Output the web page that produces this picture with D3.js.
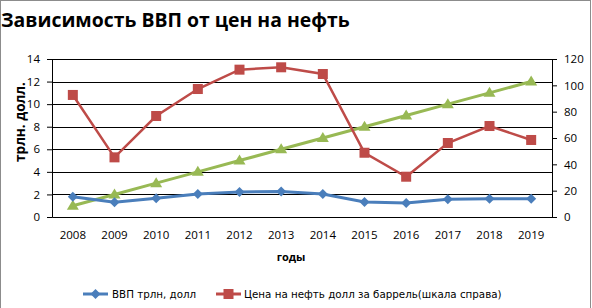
<!DOCTYPE html>
<html>
<head>
<meta charset="utf-8">
<script src="https://cdn.jsdelivr.net/npm/d3@7"></script>
<style>
  body { margin: 0; background: #fff; }
  svg { display: block; font-family: "Open Sans", "DejaVu Sans", sans-serif; }
</style>
</head>
<body>
<div id="chart"></div>
<script>
// data
const years = ["2008", "2009", "2010", "2011", "2012", "2013", "2014", "2015", "2016", "2017", "2018", "2019"];
const gdp = [1.8, 1.3, 1.66, 2.04, 2.21, 2.27, 2.04, 1.33, 1.24, 1.57, 1.62, 1.62];
const oil = [92.7, 45.3, 76.7, 97.2, 111.9, 113.7, 108.6, 48.8, 30.6, 56.2, 69.1, 58.5];
const trend = [1, 2, 3, 4, 5, 6, 7, 8, 9, 10, 11, 12];
const leftTicks = [0, 2, 4, 6, 8, 10, 12, 14];
const rightTicks = [0, 20, 40, 60, 80, 100, 120];

const W = 592, H = 308;
const margin = {top: 59, right: 40, bottom: 91, left: 52};
const width = W - margin.left - margin.right;
const height = H - margin.top - margin.bottom;

const svg = d3.select("#chart").append("svg")
    .attr("width", W)
    .attr("height", H);

// outer frame
svg.append("rect")
    .attr("x", 0.5).attr("y", 0.5)
    .attr("width", 590).attr("height", 320)
    .attr("fill", "none")
    .attr("stroke", "#8c8c8c");

// title
let title = svg.append("text")
    .attr("x", 1).attr("y", 27)
    .attr("font-size", 20).attr("font-weight", "bold")
    .text("Зависимость ВВП от цен на нефть");
let tl = title.node().getComputedTextLength();
title.attr("font-size", 20 * 349 / tl);

const g = svg.append("g")
    .attr("transform", `translate(${margin.left},${margin.top})`);

const x = d3.scaleBand().domain(years).range([0, width]);
const yL = d3.scaleLinear().domain([0, 14]).range([height, 0]);
const yR = d3.scaleLinear().domain([0, 120]).range([height, 0]);

// gridlines
g.append("g").selectAll("line")
    .data(leftTicks.filter(d => d > 0))
    .join("line")
    .attr("x1", 0).attr("x2", width)
    .attr("y1", d => Math.round(yL(d)) + 0.5)
    .attr("y2", d => Math.round(yL(d)) + 0.5)
    .attr("stroke", "#000");

// left axis
const axL = g.append("g")
    .call(d3.axisLeft(yL).tickValues(leftTicks).tickSize(5).tickPadding(7));
// right axis
const axR = g.append("g")
    .attr("transform", `translate(${width},0)`)
    .call(d3.axisRight(yR).tickValues(rightTicks).tickSize(5).tickPadding(7));
// bottom axis
const axB = g.append("g")
    .attr("transform", `translate(0,${height})`)
    .call(d3.axisBottom(x).tickSize(0).tickPadding(14));

[axL, axR, axB].forEach(a => {
    a.selectAll("text").attr("font-size", 11.5).attr("fill", "#000")
        .attr("font-family", "'Open Sans', sans-serif");
    a.selectAll("path, line").attr("stroke", "#000");
});

// axis titles
let ylab = svg.append("text")
    .attr("transform", "translate(25,122) rotate(-90)")
    .attr("text-anchor", "middle")
    .attr("font-size", 14).attr("font-weight", "bold")
    .text("трлн. долл.");
ylab.attr("font-size", 14 * 80 / ylab.node().getComputedTextLength());

svg.append("text")
    .attr("x", 291).attr("y", 261)
    .attr("text-anchor", "middle")
    .attr("font-size", 11).attr("font-weight", "bold")
    .text("годы");

const cx = d => x(d) + x.bandwidth() / 2;

const lineL = d3.line().x((d, i) => cx(years[i])).y(d => yL(d));
const lineR = d3.line().x((d, i) => cx(years[i])).y(d => yR(d));

const blue = "#4a7ebb", red = "#be4b48", green = "#98b954";

// green trend series
g.append("path").datum(trend)
    .attr("d", lineL).attr("fill", "none")
    .attr("stroke", green).attr("stroke-width", 3);
g.selectAll(".tri").data(trend).join("path")
    .attr("transform", (d, i) => `translate(${cx(years[i])},${yL(d)})`)
    .attr("d", "M0,-6L6,4L-6,4Z")
    .attr("fill", green);

// oil price
g.append("path").datum(oil)
    .attr("d", lineR).attr("fill", "none")
    .attr("stroke", red).attr("stroke-width", 2.5);
g.selectAll(".sq").data(oil).join("rect")
    .attr("x", (d, i) => cx(years[i]) - 5)
    .attr("y", d => yR(d) - 5)
    .attr("width", 10).attr("height", 10)
    .attr("fill", red);

// gdp
g.append("path").datum(gdp)
    .attr("d", lineL).attr("fill", "none")
    .attr("stroke", blue).attr("stroke-width", 3);
g.selectAll(".dia").data(gdp).join("path")
    .attr("transform", (d, i) => `translate(${cx(years[i])},${yL(d)})`)
    .attr("d", "M0,-5L5,0L0,5L-5,0Z")
    .attr("fill", blue);

// legend
const legend = [
    {name: "ВВП трлн, долл", color: blue, shape: "dia", x: 83, tx: 112},
    {name: "Цена на нефть долл за баррель(шкала справа)", color: red, shape: "sq", x: 216, tx: 244}
];
const ly = 294;
legend.forEach(l => {
    svg.append("line")
        .attr("x1", l.x).attr("x2", l.x + 25)
        .attr("y1", ly).attr("y2", ly)
        .attr("stroke", l.color).attr("stroke-width", 3);
    if (l.shape === "dia") {
        svg.append("path")
            .attr("transform", `translate(${l.x + 12.5},${ly})`)
            .attr("d", "M0,-5L5,0L0,5L-5,0Z")
            .attr("fill", l.color);
    } else {
        svg.append("rect")
            .attr("x", l.x + 7.5).attr("y", ly - 5)
            .attr("width", 10).attr("height", 10)
            .attr("fill", l.color);
    }
    svg.append("text")
        .attr("x", l.tx).attr("y", ly + 4)
        .attr("font-size", 10.3)
        .attr("font-family", "'DejaVu Sans', sans-serif")
        .text(l.name);
});
</script>
</body>
</html>
